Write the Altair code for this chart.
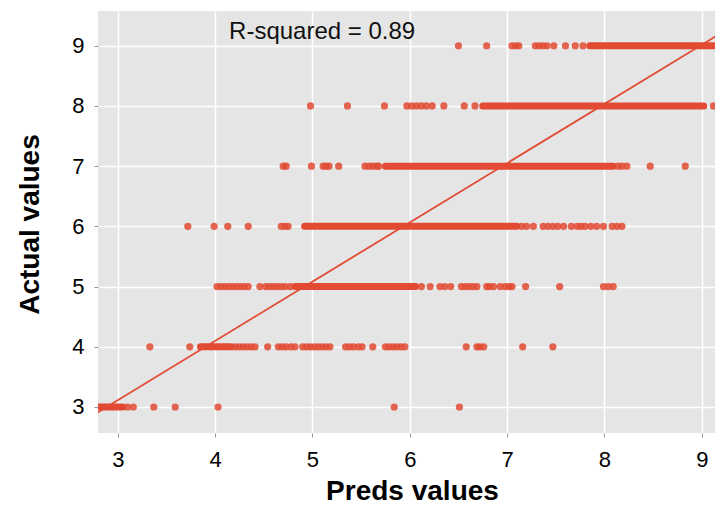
import altair as alt
import pandas as pd

RED = "#E24A33"

# Actual value levels (rows of the scatter)
y_levels = [9, 8, 7, 6, 5, 4, 3]

# Isolated predicted values per row
pts_9 = [6.50, 6.79, 7.05, 7.09, 7.12, 7.29, 7.33, 7.37, 7.41, 7.48, 7.60, 7.70, 7.78]
pts_8 = [4.98, 5.36, 5.74, 5.97, 6.02, 6.07, 6.12, 6.17, 6.23, 6.35, 6.56, 6.67, 9.12]
pts_7 = [4.70, 4.73, 4.99, 5.11, 5.14, 5.17, 5.27, 5.54, 5.58, 5.62, 5.66, 5.68,
         8.14, 8.18, 8.23, 8.47, 8.83]
pts_6 = [3.72, 3.99, 4.13, 4.34, 4.68, 4.72, 4.75, 7.15, 7.20, 7.27, 7.37, 7.42,
         7.47, 7.52, 7.58, 7.66, 7.72, 7.76, 7.80, 7.86, 7.92, 7.99, 8.08, 8.13, 8.18]
pts_5 = [4.02, 4.06, 4.10, 4.14, 4.18, 4.22, 4.26, 4.30, 4.34, 4.46, 4.52, 4.56,
         4.60, 4.64, 4.68, 4.72, 4.77, 6.12, 6.21, 6.31, 6.36, 6.42, 6.53, 6.57,
         6.61, 6.65, 6.69, 6.79, 6.82, 6.86, 6.93, 6.98, 7.02, 7.05, 7.19, 7.54,
         7.99, 8.04, 8.09]
pts_4 = [3.33, 3.74, 4.17, 4.21, 4.25, 4.29, 4.33, 4.37, 4.41, 4.54, 4.65, 4.69,
         4.73, 4.78, 4.82, 4.90, 4.94, 4.98, 5.02, 5.06, 5.10, 5.14, 5.18, 5.34,
         5.38, 5.42, 5.47, 5.51, 5.62, 5.75, 5.79, 5.83, 5.87, 5.91, 5.95, 6.58,
         6.69, 6.72, 6.76, 7.16, 7.47]
pts_3 = [3.10, 3.16, 3.37, 3.59, 4.03, 5.84, 6.51]

# Dense runs of overlapping points per row (start / end of each run)
run_start = [7.85, 6.75, 5.75, 4.92, 4.82, 3.85, 2.78]
run_end = [9.30, 9.02, 8.09, 7.10, 6.06, 4.14, 3.05]

# Fitted line end points
line_x = [2.60, 9.40]
line_y = [2.72, 9.41]

# Annotation
label_text = ["R-squared = 0.89"]
label_x = [5.10]
label_y = [9.23]

x_ticks = [3, 4, 5, 6, 7, 8, 9]
y_ticks = [3, 4, 5, 6, 7, 8, 9]

rows = []
for yv, xs in zip(y_levels, [pts_9, pts_8, pts_7, pts_6, pts_5, pts_4, pts_3]):
    rows += [{"pred": x, "actual": yv} for x in xs]
points_df = pd.DataFrame(rows)
runs_df = pd.DataFrame({"actual": y_levels, "pred": run_start, "pred_end": run_end})
line_df = pd.DataFrame({"pred": line_x, "actual": line_y})
label_df = pd.DataFrame({"pred": label_x, "actual": label_y, "text": label_text})

FONT = "Liberation Sans"
xscale = alt.Scale(domain=[2.797, 9.218], nice=False, zero=False)
yscale = alt.Scale(domain=[2.568, 9.577], nice=False, zero=False)

xaxis = alt.Axis(
    title="Preds values", values=x_ticks, format="d", grid=True,
    gridColor="white", gridWidth=1.5, domain=False, tickSize=4,
    tickColor="#999999", labelFontSize=22, labelFont=FONT, labelColor="black",
    labelPadding=12, titleFontSize=28, titleFont=FONT, titleFontWeight="bold",
    titleColor="black", titleX=314, titleY=66, titleBaseline="alphabetic",
    titleAlign="center",
)
yaxis = alt.Axis(
    title="Actual values", values=y_ticks, format="d", grid=True,
    gridColor="white", gridWidth=1.5, domain=False, tickSize=4,
    tickColor="#999999", labelFontSize=22, labelFont=FONT, labelColor="black",
    labelPadding=10, titleFontSize=28, titleFont=FONT, titleFontWeight="bold",
    titleColor="black", titleAngle=270, titleX=-68, titleY=213,
    titleBaseline="middle", titleAlign="center",
)

runs = alt.Chart(runs_df).mark_rule(
    color=RED, strokeWidth=7, strokeCap="round", clip=True
).encode(
    x=alt.X("pred:Q", scale=xscale, axis=xaxis),
    x2="pred_end:Q",
    y=alt.Y("actual:Q", scale=yscale, axis=yaxis),
)

points = alt.Chart(points_df).mark_circle(
    color=RED, size=52, opacity=0.85, clip=True
).encode(
    x=alt.X("pred:Q", scale=xscale, axis=xaxis),
    y=alt.Y("actual:Q", scale=yscale, axis=yaxis),
)

line = alt.Chart(line_df).mark_line(color=RED, strokeWidth=1.8, clip=True).encode(
    x=alt.X("pred:Q", scale=xscale, axis=xaxis),
    y=alt.Y("actual:Q", scale=yscale, axis=yaxis),
)

label = alt.Chart(label_df).mark_text(
    fontSize=24, font=FONT, color="#111111", align="center", baseline="middle"
).encode(
    x=alt.X("pred:Q", scale=xscale, axis=xaxis),
    y=alt.Y("actual:Q", scale=yscale, axis=yaxis),
    text="text:N",
)

chart = alt.layer(runs, points, line, label).properties(
    width=625, height=422,
    autosize=alt.AutoSizeParams(type="none"),
    padding={"left": 90, "top": 3, "right": -8, "bottom": 71},
    background="white",
).configure_view(fill="#E5E5E5", strokeWidth=0)

chart.save("out.html", embed_options={"renderer": "svg", "actions": False})
